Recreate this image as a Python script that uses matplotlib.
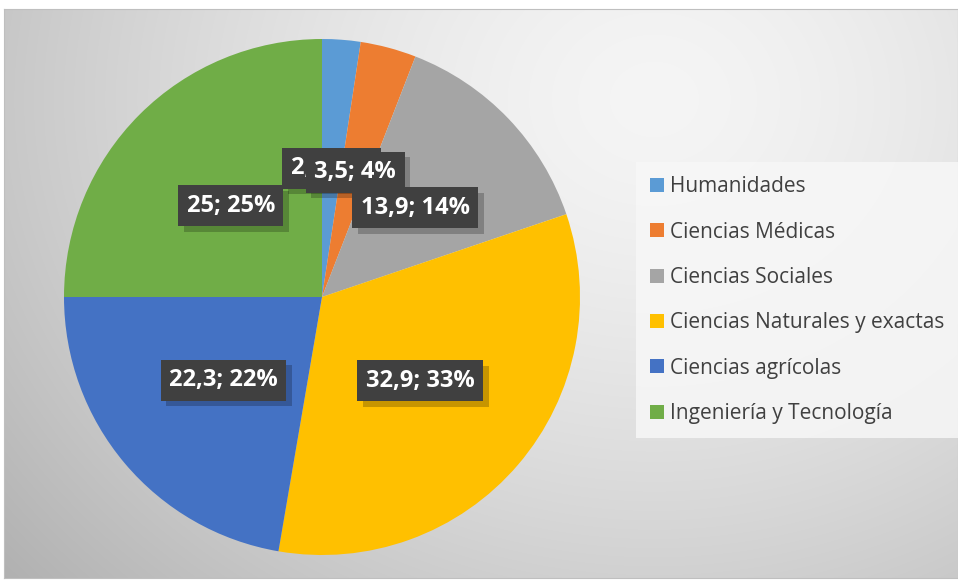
import numpy as np
import matplotlib.pyplot as plt
from matplotlib.patches import Patch
import matplotlib.patheffects as pe

categorias = ["Humanidades", "Ciencias Médicas", "Ciencias Sociales",
              "Ciencias Naturales y exactas", "Ciencias agrícolas",
              "Ingeniería y Tecnología"]
valores = [2.4, 3.5, 13.9, 32.9, 22.3, 25]
colores = ["#5B9BD5", "#ED7D31", "#A5A5A5", "#FFC000", "#4472C4", "#70AD47"]

W, H = 958, 581
fig = plt.figure(figsize=(W / 100, H / 100), dpi=100)
fig.patch.set_facecolor("white")

# fondo con degradado radial
bg = fig.add_axes([4 / W, 1 - 578 / H, 954 / W, 569 / H])
yy, xx = np.mgrid[0:569, 0:954]
d = np.sqrt((xx - 650) ** 2 + ((yy - 90) / 0.85) ** 2)
g = 0.96 - 0.24 * (d / 800) ** 1.5
img = np.dstack([g, g, g])
bg.imshow(img, aspect="auto", interpolation="bilinear")
bg.set_xticks([])
bg.set_yticks([])
for s in bg.spines.values():
    s.set_color("#bfbfbf")
    s.set_linewidth(0.8)

# pastel
cx, cy, r = 322, 297, 258
ax = fig.add_axes([(cx - r) / W, (H - cy - r) / H, 2 * r / W, 2 * r / H])
ax.set_facecolor("none")
total = sum(valores)


def etiqueta(p):
    v = p * total / 100
    txt = ("%.1f" % v).rstrip("0").rstrip(".").replace(".", ",")
    return "%s; %d%%" % (txt, round(p))


wedges, texts, autotexts = ax.pie(valores, colors=colores, startangle=90,
                                  counterclock=False, radius=1,
                                  autopct=etiqueta, pctdistance=0.5,
                                  wedgeprops=dict(linewidth=0))
ax.set_xlim(-1, 1)
ax.set_ylim(-1, 1)
ax.set_aspect("auto")

for t in autotexts:
    t.set_color("white")
    t.set_fontsize(17)
    t.set_fontweight("bold")
    t.set_fontfamily("Open Sans")
    t.set_bbox(dict(boxstyle="square,pad=0.36", facecolor="#404040",
                    edgecolor="none"))
    t.get_bbox_patch().set_path_effects([
        pe.SimplePatchShadow(offset=(4, -4), shadow_rgbFace="black", alpha=0.22),
        pe.Normal()])

# leyenda
handles = [Patch(facecolor=c, edgecolor="none") for c in colores]
leg = fig.legend(handles, categorias, loc="upper left",
                 bbox_to_anchor=(636 / W, 1 - 162 / H),
                 frameon=True, facecolor="#f7f7f7", edgecolor="none",
                 fancybox=False, framealpha=0.85,
                 prop={"family": "Open Sans", "size": 15},
                 handlelength=0.65, handleheight=0.65, handletextpad=0.3,
                 labelspacing=1.17, borderpad=0.68, borderaxespad=0)
for t in leg.get_texts():
    t.set_color("#404040")

fig.savefig("out.png", dpi=100)
